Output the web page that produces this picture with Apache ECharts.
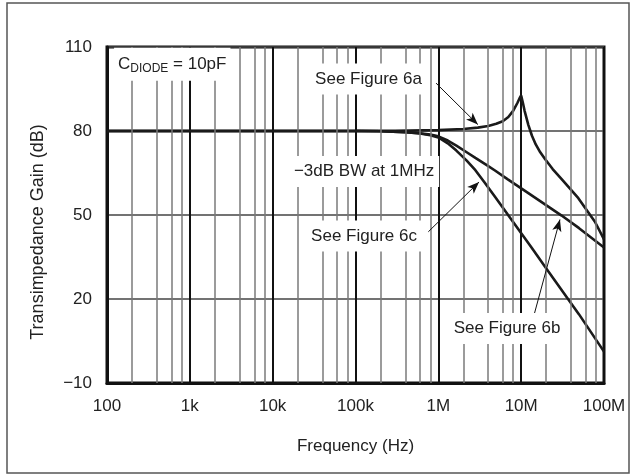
<!DOCTYPE html>
<html>
<head>
<meta charset="utf-8">
<script src="https://cdn.jsdelivr.net/npm/echarts@6/dist/echarts.min.js"></script>
<style>
  html, body { margin: 0; padding: 0; background: #fff; }
  #chart { width: 633px; height: 476px; }
</style>
</head>
<body>
<div id="chart"></div>
<script>
// frequency (Hz) / gain (dB)
const fig6a = [[100, 80], [1e3, 80], [1e4, 80], [1e5, 80.05], [3e5, 80.1], [1e6, 80.3], [2e6, 80.7],
    [3e6, 81.2], [4e6, 81.8], [5e6, 82.6], [6e6, 83.5], [7e6, 85], [8e6, 87.2], [9e6, 90],
    [9.6e6, 91.8], [1e7, 92.7], [1.05e7, 90], [1.1e7, 87.2], [1.22e7, 82.2], [1.35e7, 78.3],
    [1.5e7, 75.2], [1.7e7, 72.4], [1.94e7, 70], [2.4e7, 66.4], [3.08e7, 62.8], [4.9e7, 56],
    [7.77e7, 47.6], [1e8, 41.3]];
const fig6b = [[100, 80], [1e3, 80], [1e4, 80], [1e5, 80], [2e5, 79.9], [4e5, 79.6], [6e5, 79.2],
    [8e5, 78.7], [1e6, 78.1], [1.3e6, 76.6], [1.65e6, 74.8], [2.2e6, 72.4], [2.8e6, 70.4],
    [3.8e6, 67.9], [4.83e6, 65.9], [6.9e6, 62.7], [1.22e7, 57.8], [3.08e7, 49.8], [5e7, 45.3],
    [1e8, 38.4]];
const fig6c = [[100, 80], [1e3, 80], [1e4, 80], [1e5, 80], [2e5, 79.9], [4e5, 79.6], [6e5, 79.1],
    [8e5, 78.5], [1e6, 77.7], [1.3e6, 75.6], [1.65e6, 73], [2.2e6, 69.4], [2.8e6, 66],
    [3.6e6, 61.7], [4.83e6, 56.5], [8e6, 47.5], [1.34e7, 38.3], [2e7, 31], [5e7, 14.5],
    [1e8, 1.2]];

const freqLabels = { 100: '100', 1000: '1k', 10000: '10k', 100000: '100k', 1000000: '1M', 10000000: '10M', 100000000: '100M' };
const decades = [100, 1e3, 1e4, 1e5, 1e6, 1e7];
const minorSteps = [2, 4, 6, 8];

// minor log grid lines
const minorGrid = [];
decades.forEach(d => minorSteps.forEach(k => minorGrid.push({ xAxis: d * k })));

const font = 'Liberation Sans, Arial, sans-serif';
const txt = { color: '#222', fontSize: 17, fontFamily: font };

// annotation boxes
const notes = [
    { text: 'See Figure 6a', coord: [1.436e5, 98.6] },
    { text: '\u22123dB BW at 1MHz', coord: [1.268e5, 65.5] },
    { text: 'See Figure 6c', coord: [1.268e5, 42.5] },
    { text: 'See Figure 6b', coord: [6.75e6, 9.5] }
];
// arrows: [from, to]
const arrows = [
    [[9.38e5, 97.1], [3.0e6, 82.3]],
    [[7.57e5, 44.0], [3.1e6, 61.8]],
    [[1.43e7, 14.3], [2.94e7, 48.4]]
];

const curveStyle = { color: '#1a1a1a', width: 2.6 };

const chart = echarts.init(document.getElementById('chart'));
chart.setOption({
    animation: false,
    textStyle: { fontFamily: font },
    graphic: [{
        type: 'rect',
        shape: { x: 7, y: 3, width: 622, height: 470 },
        style: { fill: 'none', stroke: '#555', lineWidth: 1.5 },
        z: -1
    }],
    grid: {
        left: 107, right: 29, top: 47, bottom: 93,
        show: true, borderColor: '#111', borderWidth: 3
    },
    xAxis: {
        type: 'log',
        logBase: 10,
        min: 100,
        max: 1e8,
        splitNumber: 6,
        name: 'Frequency (Hz)',
        nameLocation: 'middle',
        nameGap: 55,
        nameTextStyle: txt,
        axisLine: { onZero: false, lineStyle: { color: '#111', width: 3 } },
        axisTick: { show: false },
        axisLabel: Object.assign({ margin: 15, formatter: v => freqLabels[Math.round(v)] || '' }, txt),
        splitLine: { show: true, lineStyle: { color: '#111', width: 2 } }
    },
    yAxis: {
        type: 'value',
        min: -10,
        max: 110,
        interval: 30,
        name: 'Transimpedance Gain (dB)',
        nameLocation: 'middle',
        nameGap: 60,
        nameTextStyle: Object.assign({}, txt, { fontSize: 18, padding: [0, 34, 0, 0] }),
        axisLine: { show: true, onZero: false, lineStyle: { color: '#111', width: 3 } },
        axisTick: { show: false },
        axisLabel: Object.assign({ margin: 15, formatter: v => v < 0 ? '\u2212' + Math.abs(v) : String(v) }, txt),
        splitLine: { show: true, lineStyle: { color: '#444', width: 1.5 } }
    },
    series: [
        {
            name: 'minor grid',
            type: 'line',
            data: [],
            z: 1,
            silent: true,
            markLine: {
                silent: true,
                symbol: 'none',
                label: { show: false },
                lineStyle: { color: '#7a7a7a', width: 1.5, type: 'solid' },
                data: minorGrid
            }
        },
        { name: 'Figure 6a', type: 'line', data: fig6a, showSymbol: false, lineStyle: curveStyle, z: 3 },
        { name: 'Figure 6b', type: 'line', data: fig6b, showSymbol: false, lineStyle: curveStyle, z: 3 },
        { name: 'Figure 6c', type: 'line', data: fig6c, showSymbol: false, lineStyle: curveStyle, z: 3 },
        {
            name: 'notes',
            type: 'line',
            data: [],
            z: 5,
            markPoint: {
                symbol: 'rect',
                symbolSize: 1,
                itemStyle: { color: 'rgba(0,0,0,0)' },
                label: Object.assign({ show: true, position: 'inside', backgroundColor: '#fff', padding: [7, 5] }, txt),
                data: notes.map(n => ({ coord: n.coord, value: n.text, label: { formatter: n.text } })).concat([{
                    coord: [120, 103.8],
                    label: {
                        position: 'right',
                        distance: 0,
                        padding: [6, 4],
                        formatter: '{n|C}{s|DIODE}{n| = 10pF}',
                        rich: {
                            n: { fontSize: 17, color: '#222', fontFamily: font },
                            s: { fontSize: 12, color: '#222', fontFamily: font, padding: [9, 0, 0, 0] }
                        }
                    }
                }])
            },
            markLine: {
                silent: true,
                symbol: ['none', 'arrow'],
                symbolSize: [7, 12],
                label: { show: false },
                lineStyle: { color: '#111', width: 1, type: 'solid' },
                data: arrows.map(a => [{ coord: a[0] }, { coord: a[1] }])
            }
        }
    ]
});
</script>
</body>
</html>
